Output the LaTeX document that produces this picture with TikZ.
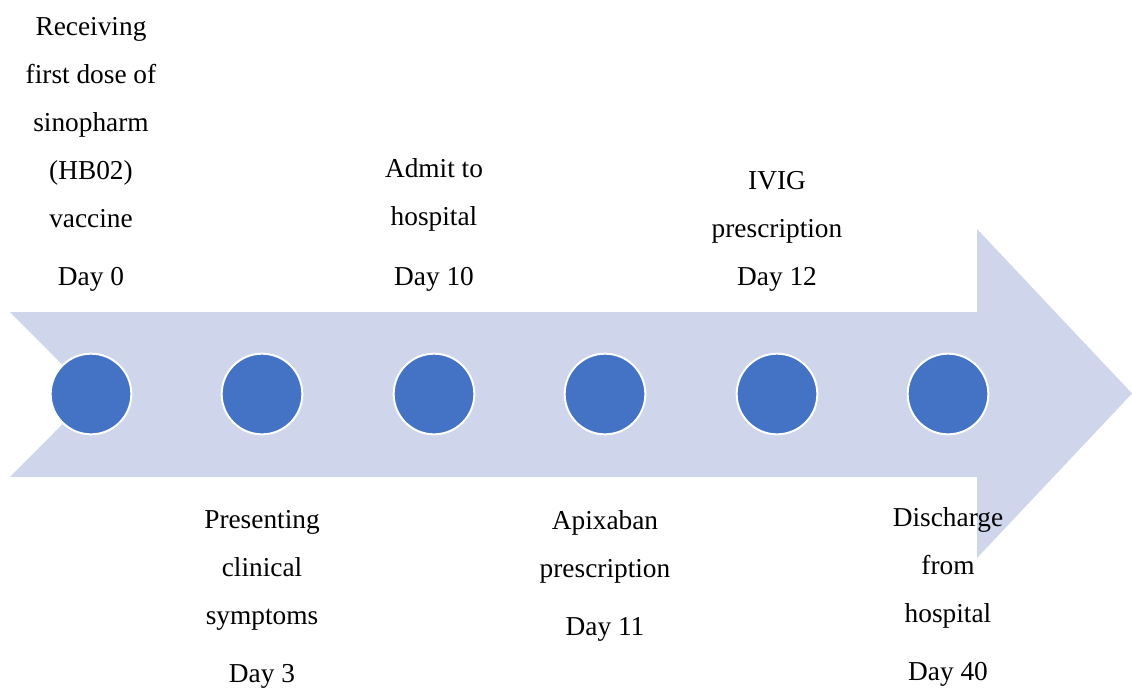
\documentclass[tikz,border=0pt]{standalone}
\usepackage{fontspec}
\setmainfont{Liberation Serif}
\definecolor{arrowfill}{HTML}{CFD5EA}
\definecolor{dotblue}{HTML}{4472C4}

\begin{document}
\begin{tikzpicture}[x=0.75pt,y=-0.75pt,
	dot/.style={circle,fill=dotblue,draw=white,line width=1.5pt,inner sep=0pt,minimum size=60.5pt},
	lbl/.style={align=center,inner sep=0pt,anchor=base,font=\fontsize{20.5}{36}\selectfont}]
	\useasboundingbox (0,0) rectangle (1132,687);
	
	% big arrow
	\fill [arrowfill] (10,312)--(977,312)--(977,229)--(1132,393.5)--(977,558)--(977,477)--(10,477)--(92,394.5)--cycle;
	
	\foreach \i/\x in {0/91,1/262,2/434,3/605,4/777,5/948}
		\node (c\i) [dot] at (\x,394) {};
	
	% upper labels (base = last line)
	\node (t0) [lbl] at (91,227) {Receiving\\first dose of\\sinopharm\\(HB02)\\vaccine};
	\node (d0) [lbl] at (91,285) {Day 0};
	\node (t2) [lbl] at (434,225) {Admit to\\hospital};
	\node (d2) [lbl] at (434,285) {Day 10};
	\node (t4) [lbl] at (777,237) {IVIG\\prescription};
	\node (d4) [lbl] at (777,285) {Day 12};
	
	% lower labels
	\node (t1) [lbl] at (262,624) {Presenting\\clinical\\symptoms};
	\node (d1) [lbl] at (262,682) {Day 3};
	\node (t3) [lbl] at (605,577) {Apixaban\\prescription};
	\node (d3) [lbl] at (605,635) {Day 11};
	\node (t5) [lbl] at (948,622) {Discharge\\from\\hospital};
	\node (d5) [lbl] at (948,680) {Day 40};
\end{tikzpicture}
\end{document}
